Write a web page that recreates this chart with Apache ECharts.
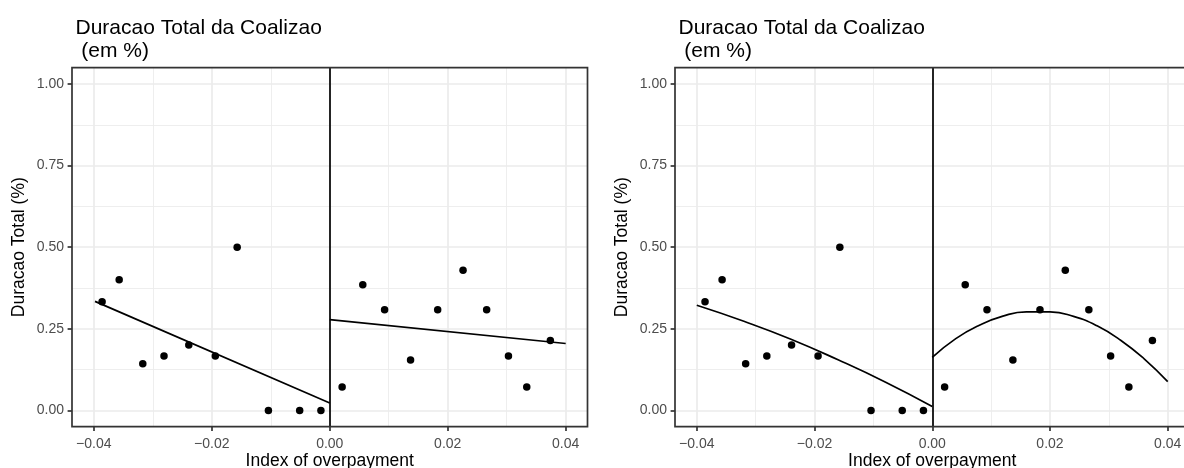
<!DOCTYPE html>
<html>
<head>
<meta charset="utf-8">
<script src="https://cdn.jsdelivr.net/npm/echarts@6/dist/echarts.min.js"></script>
<style>
html,body{margin:0;padding:0;background:#fff;}
#chart{width:1184px;height:468px;}
</style>
</head>
<body>
<div id="chart"></div>
<script>
// ---- data ----
const titleText = "Duracao Total da Coalizao\n (em %)";
const yName = "Duracao Total (%)";
const xName = "Index of overpayment";

const pointX = [-0.0386,-0.0357,-0.0317,-0.0281,-0.0239,-0.0194,-0.0157,-0.0104,-0.0051,-0.0015,
                 0.0021, 0.0056, 0.0093, 0.0137, 0.0183, 0.0226, 0.0266, 0.0303, 0.0334, 0.0374];
const pointY = [0.333, 0.400, 0.143, 0.167, 0.200, 0.167, 0.500, 0, 0, 0,
                0.0714, 0.385, 0.308, 0.154, 0.308, 0.429, 0.308, 0.167, 0.0714, 0.214];

// panel 1: linear fits
const linLeftX  = [-0.0398, 0];
const linLeftY  = [0.334, 0.0227];
const linRightX = [0, 0.04];
const linRightY = [0.278, 0.205];

// panel 2: quadratic fits
const quadLeftX  = [-0.040, -0.032, -0.024, -0.016, -0.008, 0];
const quadLeftY  = [0.322, 0.273, 0.218, 0.155, 0.087, 0.012];
const quadRightX = [0, 0.004, 0.008, 0.012, 0.016, 0.020, 0.024, 0.028, 0.032, 0.036, 0.040];
const quadRightY = [0.1625, 0.220, 0.261, 0.289, 0.302, 0.302, 0.288, 0.259, 0.215, 0.158, 0.088];

const xMajor = [-0.04, -0.02, 0, 0.02, 0.04];
const xMinor = [-0.03, -0.01, 0.01, 0.03];
const yMajor = [0, 0.25, 0.5, 0.75, 1];
const yMinor = [0.125, 0.375, 0.625, 0.875];
const xRange = [-0.0437, 0.0437];
const yRange = [-0.05, 1.05];

// ---- helpers ----
const FONT = "'Liberation Sans', Arial, Helvetica, sans-serif";
const zip = (a, b) => a.map((v, i) => [v, b[i]]);
const fmtX = v => (v < 0 ? '\u2212' : '') + Math.abs(v).toFixed(2);
const fmtY = v => v.toFixed(2);

const grids = [
  {left: 72, top: 67.7, width: 515.5, height: 359},
  {left: 675, top: 67.7, width: 514.5, height: 359}
];

function majorX(g) {
  return {
    gridIndex: g, type: 'value', min: xRange[0], max: xRange[1], position: 'bottom',
    axisLine: {show: false, onZero: false},
    axisTick: {show: true, length: 4.4, customValues: xMajor, lineStyle: {color: '#333333', width: 1.7}},
    axisLabel: {customValues: xMajor, formatter: fmtX, fontSize: 14, color: '#4D4D4D', margin: 10, fontFamily: FONT},
    splitLine: {show: true, lineStyle: {color: '#EBEBEB', width: 1.7}},
    name: xName, nameLocation: 'middle', nameGap: 25, nameMoveOverlap: false,
    nameTextStyle: {fontSize: 17.5, color: '#000', fontFamily: FONT}
  };
}
function minorX(g) {
  return {
    gridIndex: g, type: 'value', min: xRange[0], max: xRange[1], position: 'top',
    axisLine: {show: false, onZero: false},
    axisTick: {show: false, customValues: xMinor},
    axisLabel: {show: false, customValues: xMinor},
    splitLine: {show: true, lineStyle: {color: '#EBEBEB', width: 0.85}}
  };
}
function majorY(g) {
  return {
    gridIndex: g, type: 'value', min: yRange[0], max: yRange[1], position: 'left',
    axisLine: {show: false, onZero: false},
    axisTick: {show: true, length: 4.4, customValues: yMajor, lineStyle: {color: '#333333', width: 1.7}},
    axisLabel: {customValues: yMajor, formatter: fmtY, fontSize: 14, color: '#4D4D4D', margin: 8, fontFamily: FONT},
    splitLine: {show: true, lineStyle: {color: '#EBEBEB', width: 1.7}},
    name: yName, nameLocation: 'middle', nameGap: 43.5, nameMoveOverlap: false,
    nameTextStyle: {fontSize: 17.5, color: '#000', fontFamily: FONT}
  };
}
function minorY(g) {
  return {
    gridIndex: g, type: 'value', min: yRange[0], max: yRange[1], position: 'right',
    axisLine: {show: false, onZero: false},
    axisTick: {show: false, customValues: yMinor},
    axisLabel: {show: false, customValues: yMinor},
    splitLine: {show: true, lineStyle: {color: '#EBEBEB', width: 0.85}}
  };
}

function lineSeries(xi, yi, xs, ys, smooth) {
  return {
    type: 'line', xAxisIndex: xi, yAxisIndex: yi, data: zip(xs, ys),
    showSymbol: false, symbol: 'none', smooth: smooth, silent: true, z: 3,
    lineStyle: {color: '#000', width: 1.7}
  };
}
function scatterSeries(xi, yi) {
  return {
    type: 'scatter', xAxisIndex: xi, yAxisIndex: yi, data: zip(pointX, pointY),
    symbolSize: 7.5, itemStyle: {color: '#000', opacity: 1}, z: 4, silent: true,
    markLine: {
      silent: true, symbol: ['none', 'none'], label: {show: false},
      lineStyle: {color: '#000', width: 1.7, type: 'solid', opacity: 1},
      emphasis: {disabled: true},
      data: [{xAxis: 0}]
    }
  };
}

const option = {
  animation: false,
  backgroundColor: '#ffffff',
  title: [
    {text: titleText, left: 70.5, top: 11.2, textStyle: {fontSize: 21, fontWeight: 'normal', color: '#000', lineHeight: 23.6, fontFamily: FONT}},
    {text: titleText, left: 673.5, top: 11.2, textStyle: {fontSize: 21, fontWeight: 'normal', color: '#000', lineHeight: 23.6, fontFamily: FONT}}
  ],
  grid: grids.map(g => Object.assign({show: true, borderColor: '#333333', borderWidth: 1.7, backgroundColor: 'transparent', z: 10, containLabel: false, outerBoundsMode: 'none'}, g)),
  xAxis: [majorX(0), minorX(0), majorX(1), minorX(1)],
  yAxis: [majorY(0), minorY(0), majorY(1), minorY(1)],
  series: [
    scatterSeries(0, 0),
    lineSeries(0, 0, linLeftX, linLeftY, false),
    lineSeries(0, 0, linRightX, linRightY, false),
    scatterSeries(2, 2),
    lineSeries(2, 2, quadLeftX, quadLeftY, true),
    lineSeries(2, 2, quadRightX, quadRightY, true)
  ]
};

const chart = echarts.init(document.getElementById('chart'), null, {renderer: 'canvas'});
chart.setOption(option);
</script>
</body>
</html>
